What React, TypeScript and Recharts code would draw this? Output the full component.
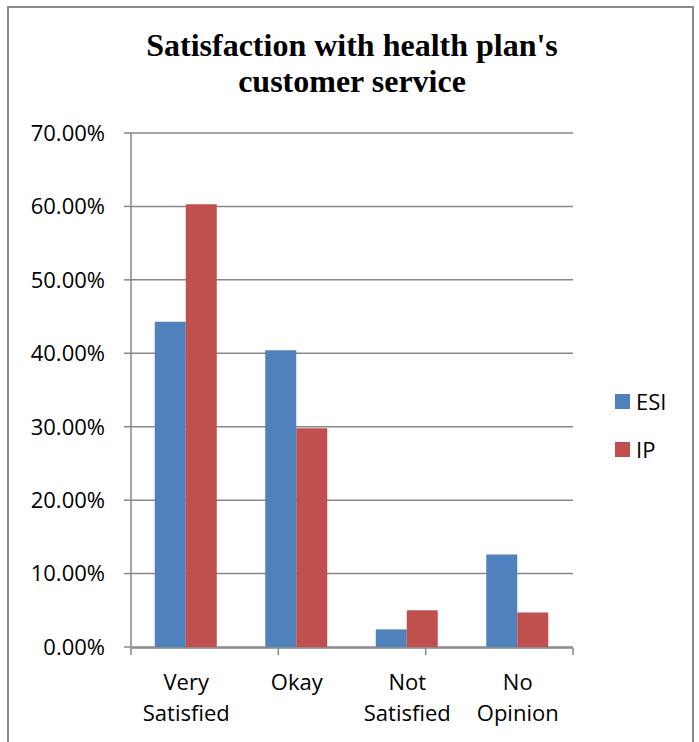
import { Bar, BarChart, CartesianGrid, Legend, XAxis, YAxis } from 'recharts';

const categories = ['Very Satisfied', 'Okay', 'Not Satisfied', 'No Opinion'];
const esiValues = [44.3, 40.4, 2.4, 12.6];
const ipValues = [60.3, 29.8, 5.0, 4.7];
const yTicks = [0, 10, 20, 30, 40, 50, 60, 70];
const edgeTicks = [0, 1, 2, 3, 4];

const seriesNames = ['ESI', 'IP'];
const seriesColors = ['#4F81BD', '#C0504D'];

const data = categories.map((name, i) => ({
  name,
  ESI: esiValues[i],
  IP: ipValues[i],
}));

const labelFont = '"Open Sans", "Liberation Sans", sans-serif';
const axisGray = '#878787';

// two-line category labels, split on the space
const CategoryTick = (props: any) => {
  const { x, y, payload } = props;
  const lines = String(payload.value).split(' ');
  return (
    <text
      x={x}
      y={y}
      textAnchor="middle"
      fill="#000"
      fontFamily={labelFont}
      fontSize={22}
    >
      {lines.map((line, i) => (
        <tspan key={line} x={x} dy={i === 0 ? 43 : 31}>
          {line}
        </tspan>
      ))}
    </text>
  );
};

const LegendBox = (props: any) => {
  const items = props.payload || [];
  return (
    <div style={{ width: 80, paddingLeft: 42, boxSizing: 'border-box' }}>
      {items.map((item: any) => (
        <div
          key={item.value}
          style={{
            display: 'flex',
            alignItems: 'center',
            height: 24,
            marginBottom: 24,
            fontFamily: labelFont,
            fontSize: 22,
            lineHeight: '24px',
            color: '#000',
          }}
        >
          <span
            style={{
              display: 'inline-block',
              flexShrink: 0,
              width: 15,
              height: 15,
              background: item.color,
              marginRight: 6,
            }}
          />
          {item.value}
        </div>
      ))}
    </div>
  );
};

export default function App() {
  return (
    <div
      style={{
        position: 'fixed',
        left: 0,
        top: 0,
        width: 699,
        height: 742,
        overflow: 'hidden',
        background: '#fff',
      }}
    >
      <div
        style={{
          position: 'absolute',
          left: 7,
          top: 6,
          width: 683,
          height: 800,
          border: '2px solid #898989',
        }}
      />
      <div
        style={{
          position: 'absolute',
          left: 10,
          top: 27,
          width: 684,
          textAlign: 'center',
          fontFamily: '"Liberation Serif", "Times New Roman", serif',
          fontWeight: 'bold',
          fontSize: 32,
          lineHeight: '36px',
          color: '#000',
        }}
      >
        Satisfaction with health plan's
        <br />
        customer service
      </div>
      <div style={{ position: 'absolute', left: 0, top: 0 }}>
        <BarChart
          width={699}
          height={742}
          data={data}
          margin={{ top: 133, right: 46, bottom: 93, left: 0 }}
          barGap={0}
          barCategoryGap="21.5%"
        >
          <CartesianGrid vertical={false} stroke={axisGray} strokeWidth={1.5} />
          <XAxis
            xAxisId="edges"
            type="number"
            domain={[0, 4]}
            ticks={edgeTicks}
            allowDataOverflow
            height={1}
            axisLine={{ stroke: axisGray, strokeWidth: 1.5 }}
            tickLine={{ stroke: axisGray, strokeWidth: 1.5 }}
            tickSize={7}
            tick={() => <g />}
          />
          <XAxis
            dataKey="name"
            height={1}
            axisLine={false}
            tickLine={false}
            tickSize={0}
            tickMargin={0}
            interval={0}
            tick={<CategoryTick />}
          />
          <YAxis
            width={131}
            domain={[0, 70]}
            ticks={yTicks}
            interval={0}
            tickFormatter={(v: number) => `${v.toFixed(2)}%`}
            axisLine={{ stroke: axisGray, strokeWidth: 1.5 }}
            tickLine={{ stroke: axisGray, strokeWidth: 1.5 }}
            tickSize={7}
            tickMargin={19}
            tick={{ fill: '#000', fontFamily: labelFont, fontSize: 22 }}
          />
          <Legend
            layout="vertical"
            align="right"
            verticalAlign="top"
            wrapperStyle={{ top: 389 }}
            content={<LegendBox />}
          />
          <Bar
            dataKey="ESI"
            name={seriesNames[0]}
            fill={seriesColors[0]}
            isAnimationActive={false}
          />
          <Bar
            dataKey="IP"
            name={seriesNames[1]}
            fill={seriesColors[1]}
            isAnimationActive={false}
          />
        </BarChart>
      </div>
    </div>
  );
}
